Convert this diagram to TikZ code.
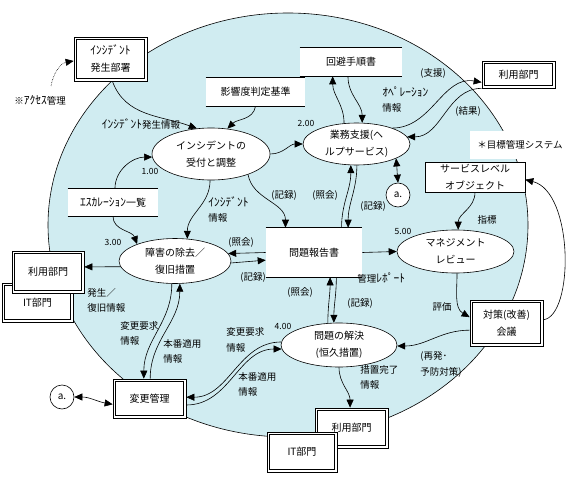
\documentclass[tikz,border=0pt]{standalone}
\usepackage{fontspec}
\newfontfamily\jp{Noto Sans CJK JP}
\newcommand\hwk[1]{{\fontsize{11.5}{15}\selectfont #1}}
\usetikzlibrary{arrows.meta,shapes.geometric}
\definecolor{bgc}{RGB}{208,236,241}
\begin{document}
\begin{tikzpicture}[x=1pt,y=-1pt,line width=0.6pt,
  >={Triangle[length=8pt,width=7pt]},
  mainfont/.style={font=\jp\fontsize{10}{17}\selectfont},
  proc/.style={ellipse, draw, fill=white, inner sep=0pt, align=center, mainfont},
  ext/.style={draw, line width=0.7pt, fill=white, inner sep=0pt, align=center, mainfont,
    path picture={\draw[line width=1.1pt] ([shift={(2.6pt,-2.6pt)}]path picture bounding box.north west) rectangle ([shift={(-2.6pt,2.6pt)}]path picture bounding box.south east);}},
  sbox/.style={draw, fill=white, inner sep=0pt, align=center, mainfont},
  store/.style={fill=white, inner sep=0pt, align=center, mainfont},
  circ/.style={circle, draw, fill=white, minimum size=24pt, inner sep=0pt, font=\jp\fontsize{10}{12}\selectfont},
  lbl/.style={font=\jp\fontsize{9.5}{15.5}\selectfont, inner sep=0pt, align=left},
  num/.style={font=\jp\fontsize{8.5}{10}\selectfont, inner sep=0pt},
]
\useasboundingbox (0,0) rectangle (570,484);
\fill[bgc] (288,225) ellipse [x radius=240pt, y radius=212pt];
\draw (288,225) ellipse [x radius=240pt, y radius=212pt];

% nodes
\node[ext, minimum width=73pt, minimum height=44pt] (incbu) at (110.5,59) {\hwk{ｲﾝｼﾃﾞﾝﾄ}\\発生部署};
\node[lbl] (access) at (40,100) {※\hwk{ｱｸｾｽ}管理};
\coordinate (accstart) at (51,86);
\node[store, minimum width=99pt, minimum height=28pt] (eikyo) at (255.5,92) {影響度判定基準};
\node[store, minimum width=102pt, minimum height=28pt] (kaihi) at (351,62) {回避手順書};
\node[proc, minimum width=118pt, minimum height=52pt] (uke) at (211,154) {インシデントの\\受付と調整};
\node[proc, minimum width=107pt, minimum height=42pt] (gyomu) at (356.5,144) {業務支援(ヘ\\ルプサービス)};
\node[circ] (a1) at (398,195) {a.};
\node[ext, minimum width=73pt, minimum height=27pt] (riyo1) at (518.5,74.5) {利用部門};
\node[fill=white, minimum width=100pt, minimum height=28pt, inner sep=0pt, font=\jp\fontsize{9.5}{12}\selectfont] (mokuhyo) at (520,145) {＊目標管理システム};
\node[sbox, minimum width=100pt, minimum height=30pt] (slo) at (475,177) {サービスレベル\\オブジェクト};
\node[store, minimum width=96pt, minimum height=49pt] (mondai) at (314,252.5) {問題報告書};
\node[proc, minimum width=112pt, minimum height=45pt] (shogai) at (175,261) {障害の除去／\\復旧措置};
\node[ext, minimum width=71pt, minimum height=39pt] (it2) at (37.5,302.5) {IT部門};
\node[ext, minimum width=72pt, minimum height=42pt] (riyo2) at (48,272) {利用部門};
\node[proc, minimum width=117pt, minimum height=43pt] (mgmt) at (455.5,251.5) {マネジメント\\レビュー};
\node[ext, minimum width=73pt, minimum height=46pt] (taisaku) at (506.5,323) {対策(改善)\\会議};
\node[proc, minimum width=116pt, minimum height=44pt] (kaiketsu) at (339,345) {問題の解決\\(恒久措置)};
\node[ext, minimum width=73pt, minimum height=40pt] (riyo3) at (351.5,428) {利用部門};
\node[ext, minimum width=70pt, minimum height=40pt] (it3) at (302,452) {IT部門};
\node[ext, minimum width=73pt, minimum height=39pt] (henko) at (149.5,398.5) {変更管理};
\node[circ] (a2) at (62,397) {a.};
\node[store, minimum width=90pt, minimum height=27pt] (escal) at (113,202.5) {\hwk{ｴｽｶﾚｰｼｮﾝ}一覧};

% store lines
\foreach \s in {eikyo,kaihi,mondai,escal}{
  \draw (\s.north west) -- (\s.north east) (\s.south west) -- (\s.south east);
}

% labels
\node[lbl] (l1) at (141,124) {\hwk{ｲﾝｼﾃﾞﾝﾄ}発生情報};
\node[lbl] (l2) at (433,73) {(支援)};
\node[lbl, anchor=west] (l3) at (382,99.5) {\hwk{ｵﾍﾟﾚｰｼｮﾝ}\\情報};
\node[lbl] (l4) at (468,111) {(結果)};
\node[lbl] (l5) at (284,195) {(記録)};
\node[lbl] (l6) at (325,195) {(照会)};
\node[lbl] (l7) at (373,206) {(記録)};
\node[lbl, anchor=west] (l8) at (208,209.5) {\hwk{ｲﾝｼﾃﾞﾝﾄ}\\情報};
\node[lbl] (l9) at (241,242) {(照会)};
\node[lbl] (l10) at (253,277) {(記録)};
\node[lbl, anchor=west] (l11) at (357,278) {管理\hwk{ﾚﾎﾟｰﾄ}};
\node[lbl] (l12) at (487,220) {指標};
\node[lbl] (l13) at (442,307) {評価};
\node[lbl, anchor=west] (l14) at (420,364.5) {(再発･\\予防対策)};
\node[lbl] (l15) at (300,292) {(照会)};
\node[lbl] (l16) at (360,303) {(記録)};
\node[lbl, anchor=west] (l17) at (360,377.5) {措置完了\\情報};
\node[lbl, anchor=west] (l18) at (226,340) {変更要求\\情報};
\node[lbl, anchor=west] (l19) at (238,384.5) {本番適用\\情報};
\node[lbl, anchor=west] (l20) at (120,333.5) {変更要求\\情報};
\node[lbl, anchor=west] (l21) at (163,351.5) {本番適用\\情報};
\node[lbl, anchor=west] (l22) at (87,300.5) {発生／\\復旧情報};
\node[num] (n1) at (150,171) {1.00};
\node[num] (n2) at (306,123) {2.00};
\node[num] (n3) at (113,242) {3.00};
\node[num] (n4) at (283,326) {4.00};
\node[num] (n5) at (403,231) {5.00};

% connectors
\draw[->, densely dotted] (accstart) to[out=80, in=190] (incbu.-177);
\draw[->] (incbu.-85) to[out=-70, in=160] (uke.119);
\draw[->] (eikyo.south) to[out=-100, in=45] (uke.57);
\draw[->] (uke.east) to[out=0, in=180] (gyomu.west);
\draw[->] (gyomu.121) to[out=90, in=-90] (kaihi.-142);
\draw[->] (kaihi.-102) to[out=-90, in=90] (gyomu.75);
\draw[->] (gyomu.24) to[out=0, in=170] (riyo1.-168);
\draw[->] (riyo1.south west) to[out=180, in=0] (gyomu.8);
\draw[<->] (gyomu.-20) to[out=-85, in=95] (a1.north);
\draw[->] (mondai.42) to[out=90, in=-90] (gyomu.-105);
\draw[->] (gyomu.-89) to[out=-90, in=90] (mondai.36);
\draw[->] (uke.-29) to[out=-80, in=90] (mondai.139);
\draw[->] (uke.-92) to[out=-90, in=90] (shogai.61);
\draw[->] (escal.82) to[out=90, in=180] (uke.-177);
\draw[->] (escal.south) to[out=-90, in=110] (shogai.156);
\draw[->] (mondai.180) -- (shogai.8);
\draw[->] (shogai.-2) -- (mondai.-171);
\draw[->] (mondai.east) -- (mgmt.west);
\draw[->] (kaiketsu.117) to[out=90, in=-90] (mondai.-57);
\draw[->] (mondai.-48) to[out=-90, in=90] (kaiketsu.103);
\draw[->] (slo.south) to[out=-90, in=90] (mgmt.83);
\draw[->] (mgmt.-86) to[out=-90, in=150] (taisaku.171);
\draw[->] (taisaku.-169) to[out=180, in=0] (kaiketsu.-1);
\draw[->] (taisaku.5) .. controls (574,316) and (574,192) .. (slo.-3);
\draw[->] (kaiketsu.south) to[out=-90, in=90] (riyo3.94);
\draw[->] (henko.-10) to[out=0, in=180] (kaiketsu.-176);
\draw[->] (kaiketsu.177) to[out=180, in=0] (henko.2);
\draw[->] (shogai.-98) to[out=-90, in=90] (henko.106);
\draw[->] (henko.88) to[out=90, in=-90] (shogai.-78);
\draw[->] (shogai.-174) -- (riyo2.8);
\draw[<->] (a2.east) to[out=0, in=170] (henko.-171);
\end{tikzpicture}
\end{document}
